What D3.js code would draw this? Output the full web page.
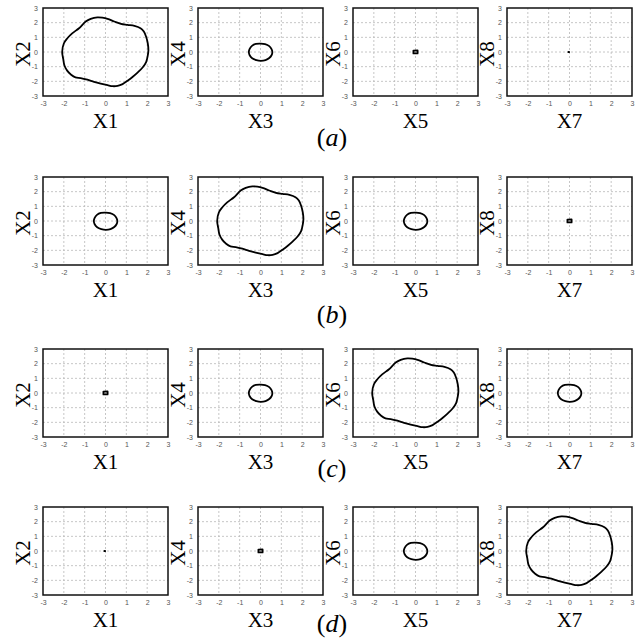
<!DOCTYPE html>
<html>
<head>
<meta charset="utf-8">
<script src="https://cdn.jsdelivr.net/npm/d3@7"></script>
<style>
  body { margin: 0; background: #fff; }
</style>
</head>
<body>
<div id="chart"></div>
<script>
// closed orbits, [x, y]
var orbitLarge = [
  [-2.08, 0.0], [-2.0, 0.58], [-1.84, 0.92], [-1.6, 1.27], [-1.27, 1.62],
  [-0.95, 2.08], [-0.71, 2.26], [-0.39, 2.36], [-0.15, 2.34], [0.1, 2.26],
  [0.42, 2.08], [0.74, 1.92], [1.06, 1.85], [1.39, 1.78], [1.68, 1.62],
  [1.84, 1.39], [1.95, 1.04], [2.03, 0.58], [2.06, 0.12], [2.03, -0.23],
  [1.95, -0.69], [1.79, -1.04], [1.55, -1.39], [1.31, -1.69], [1.06, -1.96],
  [0.82, -2.19], [0.58, -2.31], [0.34, -2.33], [0.1, -2.26], [-0.23, -2.15],
  [-0.55, -2.03], [-0.87, -1.89], [-1.19, -1.78], [-1.44, -1.73], [-1.65, -1.55],
  [-1.84, -1.27], [-1.97, -0.92], [-2.03, -0.46]
];
var orbitMedium = [
  [0.57, -0.02], [0.53, 0.2], [0.42, 0.4], [0.22, 0.54], [0.0, 0.57],
  [-0.22, 0.55], [-0.41, 0.42], [-0.52, 0.22], [-0.56, 0.0], [-0.52, -0.22],
  [-0.4, -0.42], [-0.2, -0.55], [0.02, -0.6], [0.24, -0.55], [0.42, -0.41],
  [0.53, -0.22]
];
var orbitSmall = [
  [-0.1, 0.1], [0.1, 0.11], [0.1, -0.1], [-0.1, -0.1]
];
var orbitPoint = [[-0.05, 0.01], [-0.02, 0.01], [-0.02, -0.01], [-0.05, -0.01]];

var ticks = [-3, -2, -1, 0, 1, 2, 3];
var xNames = ["X1", "X3", "X5", "X7"];
var yNames = ["X2", "X4", "X6", "X8"];
var captions = ["a", "b", "c", "d"];
var rowOrbits = [
  ["large", "medium", "small", "point"],
  ["medium", "large", "medium", "small"],
  ["small", "medium", "large", "medium"],
  ["point", "small", "medium", "large"]
];

var orbits = { large: orbitLarge, medium: orbitMedium, small: orbitSmall, point: orbitPoint };

// mise en page
var width = 642;
var height = 641;
var colLeft = [43, 198, 353, 507];
var rowTop = [8, 177, 349, 507];
var captionY = [146, 323, 477, 632];
var pw = 125;
var ph = 88;

var svg = d3
  .select("#chart")
  .append("svg")
  .attr("width", width)
  .attr("height", height);

var x = d3.scaleLinear().domain([-3, 3]).range([0, pw]);
var y = d3.scaleLinear().domain([-3, 3]).range([ph, 0]);

var line = d3
  .line()
  .x(function (d) { return x(d[0]); })
  .y(function (d) { return y(d[1]); })
  .curve(d3.curveCatmullRomClosed);

var lineSmall = d3
  .line()
  .x(function (d) { return x(d[0]); })
  .y(function (d) { return y(d[1]); })
  .curve(d3.curveLinearClosed);

rowOrbits.forEach(function (row, r) {
  row.forEach(function (name, c) {
    var g = svg
      .append("g")
      .attr("transform", "translate(" + colLeft[c] + "," + rowTop[r] + ")");

    // grille pointillée
    g.append("g")
      .selectAll("line")
      .data(ticks.slice(1, -1))
      .enter()
      .append("line")
      .attr("x1", function (d) { return x(d); })
      .attr("x2", function (d) { return x(d); })
      .attr("y1", 0)
      .attr("y2", ph)
      .attr("stroke", "#b8b8b8")
      .attr("stroke-width", 0.8)
      .attr("stroke-dasharray", "2,2");
    g.append("g")
      .selectAll("line")
      .data(ticks.slice(1, -1))
      .enter()
      .append("line")
      .attr("x1", 0)
      .attr("x2", pw)
      .attr("y1", function (d) { return y(d); })
      .attr("y2", function (d) { return y(d); })
      .attr("stroke", "#b8b8b8")
      .attr("stroke-width", 0.8)
      .attr("stroke-dasharray", "2,2");

    // axes
    var ax = g
      .append("g")
      .attr("transform", "translate(0," + ph + ")")
      .call(d3.axisBottom(x).tickValues(ticks).tickSize(0).tickPadding(5)
        .tickFormat(function (d) { return String(d); }));
    var ay = g
      .append("g")
      .call(d3.axisLeft(y).tickValues(ticks).tickSize(0).tickPadding(5)
        .tickFormat(function (d) { return String(d); }));
    [ax, ay].forEach(function (a) {
      a.select(".domain").remove();
      a.selectAll("text")
        .style("font-family", "Liberation Sans, Arial, sans-serif")
        .style("font-size", "7px")
        .style("fill", "#555");
    });

    // orbite
    var pts = orbits[name];
    g.append("path")
      .datum(pts)
      .attr("d", pts.length > 4 ? line : lineSmall)
      .attr("fill", "none")
      .attr("stroke", "#000")
      .attr("stroke-width", 1.8)
      .attr("stroke-linejoin", "round");

    // cadre
    g.append("rect")
      .attr("width", pw)
      .attr("height", ph)
      .attr("fill", "none")
      .attr("stroke", "#111")
      .attr("stroke-width", 1.5);

    // titres des axes
    g.append("text")
      .attr("x", pw / 2)
      .attr("y", ph + 32)
      .attr("text-anchor", "middle")
      .style("font-family", "Liberation Serif, Times New Roman, serif")
      .style("font-size", "21px")
      .text(xNames[c]);
    g.append("text")
      .attr("transform", "translate(-13," + (ph / 2 + 2) + ") rotate(-90)")
      .attr("text-anchor", "middle")
      .style("font-family", "Liberation Serif, Times New Roman, serif")
      .style("font-size", "21px")
      .text(yNames[c]);
  });

  // légende de la rangée
  var cap = svg
    .append("text")
    .attr("x", 332)
    .attr("y", captionY[r])
    .attr("text-anchor", "middle")
    .style("font-family", "Liberation Serif, Times New Roman, serif")
    .style("font-size", "26px");
  cap.append("tspan").text("(");
  cap.append("tspan").style("font-style", "italic").text(captions[r]);
  cap.append("tspan").text(")");
});
</script>
</body>
</html>
